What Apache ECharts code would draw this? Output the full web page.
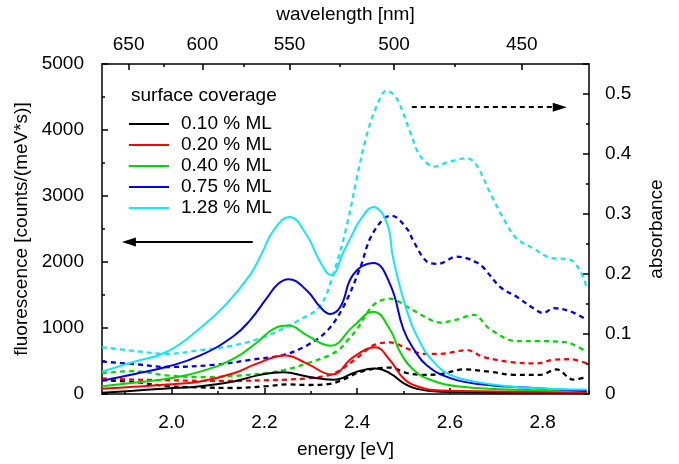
<!DOCTYPE html>
<html><head><meta charset="utf-8">
<script src="https://cdn.jsdelivr.net/npm/echarts@6/dist/echarts.min.js"></script>
<style>html,body{margin:0;padding:0;background:#fff}#c{width:679px;height:464px}</style>
</head><body><div id="c"></div>
<script>
// ---- data (energy [eV], fluorescence [counts/(meV*s)]) ----
const coverage = ['0.10 % ML', '0.20 % ML', '0.40 % ML', '0.75 % ML', '1.28 % ML'];
const energyTicks = [2.0, 2.2, 2.4, 2.6, 2.8];
const energyMinorTicks = [1.9, 2.1, 2.3, 2.5, 2.7, 2.9];
const wavelengthTicks = [650, 600, 550, 500, 450];
const wavelengthMinorTicks = [625, 575, 525, 475];
const fluoTicks = [0, 1000, 2000, 3000, 4000, 5000];
const absTicks = [0, 0.1, 0.2, 0.3, 0.4, 0.5];

const fluo010 = [[1.85,19],[1.918,50],[1.99,84],[2.062,118],[2.134,191],[2.191,290],[2.241,329],[2.292,265],[2.349,216],[2.4,339],[2.439,387],[2.471,314],[2.5,166],[2.529,78],[2.579,34],[2.7,20],[2.895,15]];
const fluo020 = [[1.85,78],[1.918,110],[1.99,143],[2.062,191],[2.134,314],[2.184,461],[2.245,584],[2.292,461],[2.345,295],[2.392,560],[2.439,707],[2.471,511],[2.5,240],[2.529,118],[2.579,54],[2.7,38],[2.895,30]];
const fluo040 = [[1.85,118],[1.918,170],[1.99,231],[2.062,339],[2.134,535],[2.184,781],[2.22,987],[2.252,1036],[2.292,888],[2.342,732],[2.392,1027],[2.435,1247],[2.471,977],[2.493,633],[2.522,364],[2.558,216],[2.615,118],[2.723,69],[2.895,44]];
const fluo075 = [[1.85,202],[1.918,300],[1.99,412],[2.062,584],[2.134,879],[2.17,1124],[2.206,1460],[2.23,1670],[2.252,1738],[2.292,1566],[2.32,1321],[2.342,1212],[2.364,1321],[2.392,1812],[2.435,1984],[2.471,1664],[2.5,977],[2.522,682],[2.55,437],[2.601,240],[2.672,143],[2.795,84],[2.895,44]];
const fluo128 = [[1.85,339],[1.918,486],[1.99,640],[2.062,1000],[2.119,1370],[2.17,1812],[2.195,2136],[2.22,2480],[2.254,2681],[2.292,2401],[2.32,2008],[2.344,1800],[2.371,2155],[2.392,2450],[2.407,2640],[2.435,2833],[2.464,2597],[2.478,2050],[2.507,1271],[2.536,781],[2.565,486],[2.601,290],[2.651,191],[2.723,118],[2.795,84],[2.895,69]];

// ---- data (energy [eV], absorbance) ----
const abs010 = [[1.85,0.023],[1.918,0.02],[1.99,0.013],[2.062,0.011],[2.134,0.01],[2.206,0.013],[2.249,0.016],[2.292,0.015],[2.342,0.017],[2.37,0.024],[2.4,0.035],[2.435,0.042],[2.471,0.044],[2.507,0.035],[2.543,0.032],[2.579,0.033],[2.629,0.041],[2.687,0.037],[2.737,0.032],[2.795,0.032],[2.83,0.041],[2.866,0.024],[2.895,0.028]];
const abs020 = [[1.85,0.026],[1.918,0.024],[1.99,0.023],[2.062,0.022],[2.134,0.022],[2.206,0.023],[2.249,0.024],[2.292,0.026],[2.342,0.032],[2.364,0.04],[2.4,0.06],[2.435,0.081],[2.471,0.086],[2.507,0.076],[2.543,0.067],[2.579,0.067],[2.637,0.073],[2.672,0.062],[2.723,0.054],[2.787,0.051],[2.823,0.057],[2.859,0.058],[2.895,0.051]];
const abs040 = [[1.85,0.035],[1.918,0.038],[1.99,0.031],[2.062,0.028],[2.134,0.03],[2.206,0.035],[2.249,0.041],[2.292,0.051],[2.342,0.065],[2.364,0.076],[2.378,0.088],[2.4,0.108],[2.435,0.148],[2.471,0.159],[2.507,0.146],[2.543,0.13],[2.579,0.119],[2.615,0.124],[2.651,0.132],[2.687,0.108],[2.744,0.088],[2.795,0.088],[2.852,0.086],[2.895,0.07]];
const abs075 = [[1.85,0.054],[1.918,0.05],[1.99,0.045],[2.098,0.049],[2.17,0.057],[2.241,0.065],[2.292,0.081],[2.335,0.105],[2.371,0.146],[2.407,0.211],[2.428,0.259],[2.457,0.292],[2.475,0.297],[2.507,0.276],[2.522,0.254],[2.55,0.221],[2.575,0.217],[2.615,0.229],[2.637,0.226],[2.658,0.219],[2.672,0.211],[2.709,0.178],[2.744,0.162],[2.78,0.143],[2.802,0.135],[2.823,0.143],[2.859,0.138],[2.895,0.124]];
const abs128 = [[1.85,0.078],[1.918,0.072],[1.99,0.067],[2.062,0.073],[2.134,0.081],[2.206,0.097],[2.277,0.124],[2.32,0.146],[2.349,0.2],[2.378,0.281],[2.4,0.362],[2.421,0.432],[2.443,0.481],[2.464,0.506],[2.486,0.492],[2.514,0.438],[2.536,0.397],[2.568,0.379],[2.594,0.386],[2.637,0.393],[2.658,0.381],[2.687,0.335],[2.716,0.292],[2.744,0.259],[2.78,0.243],[2.816,0.227],[2.859,0.224],[2.881,0.205],[2.895,0.178]];

const fluoSets = [fluo010, fluo020, fluo040, fluo075, fluo128];
const absSets = [abs010, abs020, abs040, abs075, abs128];

// annotation arrows (data coordinates)
const leftArrow = [[2.175, 2302], [1.908, 2302]];
const rightArrow = [[2.518, 0.478], [2.837, 0.478]];

const HC = 1239.84;
const colors = ['#000000', '#ff0000', '#00d800', '#0000f0', '#10e8f5'];
const FONT = 'Liberation Sans';

const chart = echarts.init(document.getElementById('c'));

const series = [];
fluoSets.forEach((d, i) => {
  series.push({
    name: coverage[i], type: 'line', xAxisIndex: 0, yAxisIndex: 0, data: d,
    smooth: 0.45, symbol: 'none', lineStyle: { color: colors[i], width: 2 },
    itemStyle: { color: colors[i] }, z: 3
  });
});
absSets.forEach((d, i) => {
  series.push({
    name: 'abs ' + coverage[i], type: 'line', xAxisIndex: 0, yAxisIndex: 1, data: d,
    smooth: 0.35, symbol: 'none', lineStyle: { color: colors[i], width: 2.3, type: [5, 4] },
    itemStyle: { color: colors[i] }, z: 2
  });
});
series[0].markLine = {
  silent: true, symbol: ['none', 'triangle'], symbolSize: [9, 14],
  label: { show: false }, emphasis: { disabled: true },
  lineStyle: { color: '#000', width: 2, type: 'solid' },
  itemStyle: { color: '#000' },
  data: [[{ coord: leftArrow[0] }, { coord: leftArrow[1] }]]
};
series[5].markLine = {
  silent: true, symbol: ['none', 'triangle'], symbolSize: [9, 14],
  label: { show: false }, emphasis: { disabled: true },
  lineStyle: { color: '#000', width: 2, type: [5, 4] },
  itemStyle: { color: '#000' },
  data: [[{ coord: rightArrow[0] }, { coord: rightArrow[1] }]]
};

const axLine = { show: true, lineStyle: { color: '#000', width: 1.5 } };
const lbl = { color: '#000', fontSize: 19, fontFamily: FONT };
const nameStyle = { color: '#000', fontSize: 19, fontFamily: FONT };
const eMin = 1.85, eMax = 2.9;

const option = {
  animation: false,
  backgroundColor: '#fff',
  textStyle: { fontFamily: FONT },
  grid: { left: 102, right: 90, top: 64, bottom: 61, containLabel: false },
  title: {
    text: 'surface coverage', left: 126, top: 81,
    textStyle: { color: '#000', fontSize: 19, fontWeight: 'normal', fontFamily: FONT }
  },
  legend: {
    data: coverage, orient: 'vertical', left: 124, top: 109,
    icon: 'rect', itemWidth: 40, itemHeight: 2, itemGap: 1,
    selectedMode: false,
    textStyle: { color: '#000', fontSize: 19, fontFamily: FONT, lineHeight: 20, padding: [0, 0, 0, 7] }
  },
  xAxis: [
    {
      type: 'value', position: 'bottom', min: eMin, max: eMax,
      name: 'energy [eV]', nameLocation: 'middle', nameGap: 46, nameTextStyle: nameStyle,
      axisLine: axLine, splitLine: { show: false },
      axisTick: { inside: true, length: 6, customValues: energyTicks, lineStyle: { color: '#000', width: 1.5 } },
      axisLabel: Object.assign({ margin: 19, customValues: energyTicks, formatter: v => v.toFixed(1) }, lbl)
    },
    {
      type: 'value', position: 'bottom', min: eMin, max: eMax,
      axisLine: { show: false }, splitLine: { show: false }, axisLabel: { show: false },
      axisTick: { inside: true, length: 3, customValues: energyMinorTicks, lineStyle: { color: '#000', width: 1.5 } }
    },
    {
      type: 'value', position: 'top', min: eMin, max: eMax,
      name: 'wavelength [nm]', nameLocation: 'middle', nameGap: 40, nameTextStyle: nameStyle,
      axisLine: axLine, splitLine: { show: false },
      axisTick: { inside: true, length: 6, customValues: wavelengthTicks.map(w => HC / w), lineStyle: { color: '#000', width: 1.5 } },
      axisLabel: Object.assign({ margin: 10, customValues: wavelengthTicks.map(w => HC / w), formatter: v => String(Math.round(HC / v)) }, lbl)
    },
    {
      type: 'value', position: 'top', min: eMin, max: eMax,
      axisLine: { show: false }, splitLine: { show: false }, axisLabel: { show: false },
      axisTick: { inside: true, length: 3, customValues: wavelengthMinorTicks.map(w => HC / w), lineStyle: { color: '#000', width: 1.5 } }
    }
  ],
  yAxis: [
    {
      type: 'value', position: 'left', min: 0, max: 5000, interval: 1000,
      name: 'fluorescence [counts/(meV*s)]', nameLocation: 'middle', nameGap: 58, nameTextStyle: nameStyle,
      axisLine: axLine, splitLine: { show: false },
      axisTick: { inside: true, length: 6, lineStyle: { color: '#000', width: 1.5 } },
      minorTick: { show: true, splitNumber: 2, length: 3, lineStyle: { color: '#000', width: 1.5 } },
      axisLabel: Object.assign({ margin: 18, customValues: fluoTicks, formatter: v => String(Math.round(v)) }, lbl)
    },
    {
      type: 'value', position: 'right', min: 0, max: 0.55, interval: 0.1,
      name: 'absorbance', nameLocation: 'middle', nameGap: 58, nameTextStyle: nameStyle,
      axisLine: axLine, splitLine: { show: false },
      axisTick: { inside: true, length: 6, lineStyle: { color: '#000', width: 1.5 } },
      minorTick: { show: true, splitNumber: 2, length: 3, lineStyle: { color: '#000', width: 1.5 } },
      axisLabel: Object.assign({ margin: 16, customValues: absTicks, formatter: v => (v === 0 ? '0' : v.toFixed(1)) }, lbl)
    }
  ],
  series: series
};
chart.setOption(option);
</script>
</body></html>
